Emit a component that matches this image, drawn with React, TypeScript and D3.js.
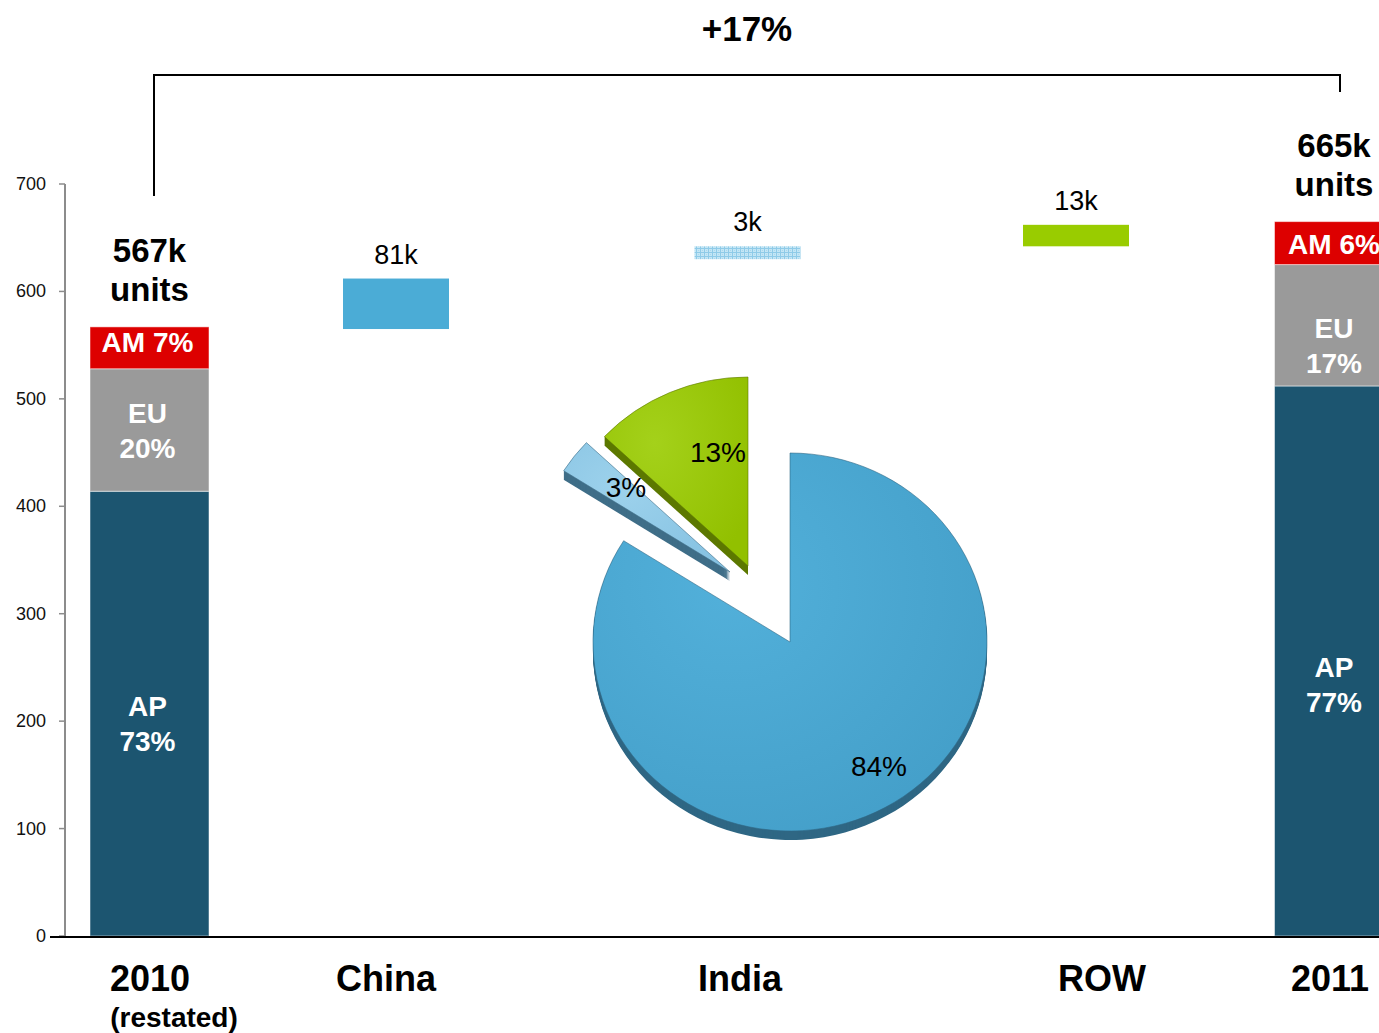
import React from "react";
import * as d3 from "d3";

// ---------- data ----------
const categories = ["2010", "China", "India", "ROW", "2011"];
const categorySub = ["(restated)", "", "", "", ""];
const yTicks = [0, 100, 200, 300, 400, 500, 600, 700];
const regions = ["AP", "EU", "AM"];
const values2010 = [414, 114, 39];
const shares2010 = ["73%", "20%", "7%"];
const values2011 = [512, 113, 40];
const shares2011 = ["77%", "17%", "6%"];
const totalLabels = ["567k", "665k"];
const deltaCats = ["China", "India", "ROW"];
const deltaStart = [565, 630, 642];
const deltaEnd = [612, 642, 662];
const deltaLabels = ["81k", "3k", "13k"];
const growthLabel = "+17%";
const pieNames = ["China", "India", "ROW"];
const pieValues = [84, 3, 13];
const pieLabels = ["84%", "3%", "13%"];

// ---------- layout / style ----------
const W = 1379, H = 1033;
const FONT = "'Liberation Sans', Arial, sans-serif";
const barCenters = [149.5, 396, 747.5, 1076, 1334];
const barLabelCenters = [147.5, 1334];
const labelCenters = [150, 386, 740, 1102, 1330];
const regionColors = ["#1c5570", "#9a9a9a", "#dd0000"];
const deltaColors = ["#4bacd6", "url(#dots)", "#99cc00"];
const pieColors = ["#4aa8d3", "#8ec9e6", "#9bc90e"];
const pieSide = ["#2f6784", "#3f6e88", "#5c7800"];
const pieExplode: [number, number][] = [[0, 0], [-60, -70], [-42, -76]];
const labelDy = [[8, -1, -5], [22, 18, 1]];

export default function App() {
  const y = d3.scaleLinear().domain([0, 700]).range([936, 184]);
  const xBar = d3.scaleOrdinal<string, number>().domain(categories).range(barCenters);
  const xLab = d3.scaleOrdinal<string, number>().domain(categories).range(labelCenters);

  const stacks = [
    { cat: "2010", vals: values2010, shares: shares2010, total: totalLabels[0] },
    { cat: "2011", vals: values2011, shares: shares2011, total: totalLabels[1] },
  ];
  const bigW = 119, smallW = 106;

  const pie = d3.pie<number>().sort(null).startAngle(0).endAngle(2 * Math.PI)(pieValues);
  const R = 197, ryScale = 189 / 197;
  const arc = d3.arc<d3.PieArcDatum<number>>().innerRadius(0).outerRadius(R);
  const cx = 790, cy = 642;
  const depth = 9;

  return (
    <svg width={W} height={H} style={{ position: "absolute", left: 0, top: 0, background: "#fff" }} fontFamily={FONT}>
      <defs>
        <pattern id="dots" width="4" height="4" patternUnits="userSpaceOnUse">
          <rect width="4" height="4" fill="#c4e6f5" />
          <rect width="4" height="1" fill="#8fcbe8" />
          <rect width="1" height="4" fill="#8fcbe8" />
          <rect x="2" y="2" width="1" height="1" fill="#a9d9ef" />
        </pattern>
        <radialGradient id="g0" cx="35%" cy="35%" r="75%">
          <stop offset="0%" stopColor="#52b0da" />
          <stop offset="100%" stopColor="#449fc9" />
        </radialGradient>
        <radialGradient id="g1" cx="35%" cy="35%" r="75%">
          <stop offset="0%" stopColor="#9dd2ec" />
          <stop offset="100%" stopColor="#86c2e2" />
        </radialGradient>
        <radialGradient id="g2" cx="35%" cy="35%" r="75%">
          <stop offset="0%" stopColor="#a4d11a" />
          <stop offset="100%" stopColor="#92c000" />
        </radialGradient>
      </defs>

      {/* growth bracket */}
      <text x={747} y={28} textAnchor="middle" dominantBaseline="central" fontSize={35} fontWeight="bold">{growthLabel}</text>
      <path d={`M154,196 V75 H1340 V92`} fill="none" stroke="#000" strokeWidth={2} />

      {/* y axis */}
      <line x1={65} x2={65} y1={y(700)} y2={y(0)} stroke="#8c8c8c" strokeWidth={2} />
      {yTicks.map((t) => (
        <g key={t}>
          <line x1={59} x2={65} y1={y(t)} y2={y(t)} stroke="#8c8c8c" strokeWidth={1.5} />
          <text x={46} y={y(t)} textAnchor="end" dominantBaseline="central" fontSize={18} fill="#111">{t}</text>
        </g>
      ))}

      {/* stacked bars */}
      {stacks.map((s, si) => {
        const cum = d3.cumsum(s.vals);
        const xc = xBar(s.cat);
        const lx = barLabelCenters[si];
        return (
          <g key={s.cat}>
            {s.vals.map((v, i) => {
              const y0 = y(cum[i] - v), y1 = y(cum[i]);
              const mid = (y0 + y1) / 2 + labelDy[si][i];
              return (
                <g key={i}>
                  <rect x={xc - bigW / 2} y={y1} width={bigW} height={y0 - y1} fill={regionColors[i]} stroke="#ffffff" strokeOpacity={0.5} strokeWidth={1} />
                  {regions[i] === "AM" ? (
                    <text x={lx} y={mid} textAnchor="middle" dominantBaseline="central" fill="#fff" fontSize={28} fontWeight="bold">{`${regions[i]} ${s.shares[i]}`}</text>
                  ) : (
                    <text x={lx} y={mid} textAnchor="middle" fill="#fff" fontSize={28} fontWeight="bold">
                      <tspan x={lx} dy="-0.2em">{regions[i]}</tspan>
                      <tspan x={lx} dy="1.25em">{s.shares[i]}</tspan>
                    </text>
                  )}
                </g>
              );
            })}
            <text x={xc} y={y(cum[cum.length - 1]) - 76} textAnchor="middle" dominantBaseline="central" fontSize={33} fontWeight="bold">{s.total}</text>
            <text x={xc} y={y(cum[cum.length - 1]) - 37} textAnchor="middle" dominantBaseline="central" fontSize={33} fontWeight="bold">units</text>
          </g>
        );
      })}

      {/* delta bars */}
      {deltaCats.map((c, i) => {
        const xc = xBar(c);
        return (
          <g key={c}>
            <rect x={xc - smallW / 2} y={y(deltaEnd[i])} width={smallW} height={y(deltaStart[i]) - y(deltaEnd[i])} fill={deltaColors[i]} />
            <text x={xc} y={y(deltaEnd[i]) - 24} textAnchor="middle" dominantBaseline="central" fontSize={27}>{deltaLabels[i]}</text>
          </g>
        );
      })}

      {/* 3D exploded pie */}
      {pie.map((p, i) => {
        const [ox, oy] = pieExplode[i];
        const d = arc(p) || "";
        const layers = d3.range(depth, 0, -1);
        return (
          <g key={pieNames[i]}>
            {layers.map((k) => (
              <g key={k} transform={`translate(${cx + ox},${cy + oy + k}) scale(1,${ryScale})`}>
                <path d={d} fill={pieSide[i]} />
              </g>
            ))}
            <g transform={`translate(${cx + ox},${cy + oy}) scale(1,${ryScale})`}>
              <path d={d} fill={`url(#g${i})`} stroke={pieSide[i]} strokeOpacity={0.6} strokeWidth={1} />
            </g>
          </g>
        );
      })}
      <text x={879} y={766} textAnchor="middle" dominantBaseline="central" fontSize={28}>{pieLabels[0]}</text>
      <text x={626} y={487} textAnchor="middle" dominantBaseline="central" fontSize={28}>{pieLabels[1]}</text>
      <text x={718} y={452} textAnchor="middle" dominantBaseline="central" fontSize={28}>{pieLabels[2]}</text>

      {/* baseline */}
      <line x1={50} x2={W} y1={937} y2={937} stroke="#000" strokeWidth={2} />

      {/* category labels */}
      {categories.map((c, i) => (
        <g key={c}>
          <text x={xLab(c)} y={978} textAnchor="middle" dominantBaseline="central" fontSize={36} fontWeight="bold">{c}</text>
          {categorySub[i] && (
            <text x={xLab(c) + 24} y={1017} textAnchor="middle" dominantBaseline="central" fontSize={28} fontWeight="bold">{categorySub[i]}</text>
          )}
        </g>
      ))}
    </svg>
  );
}
